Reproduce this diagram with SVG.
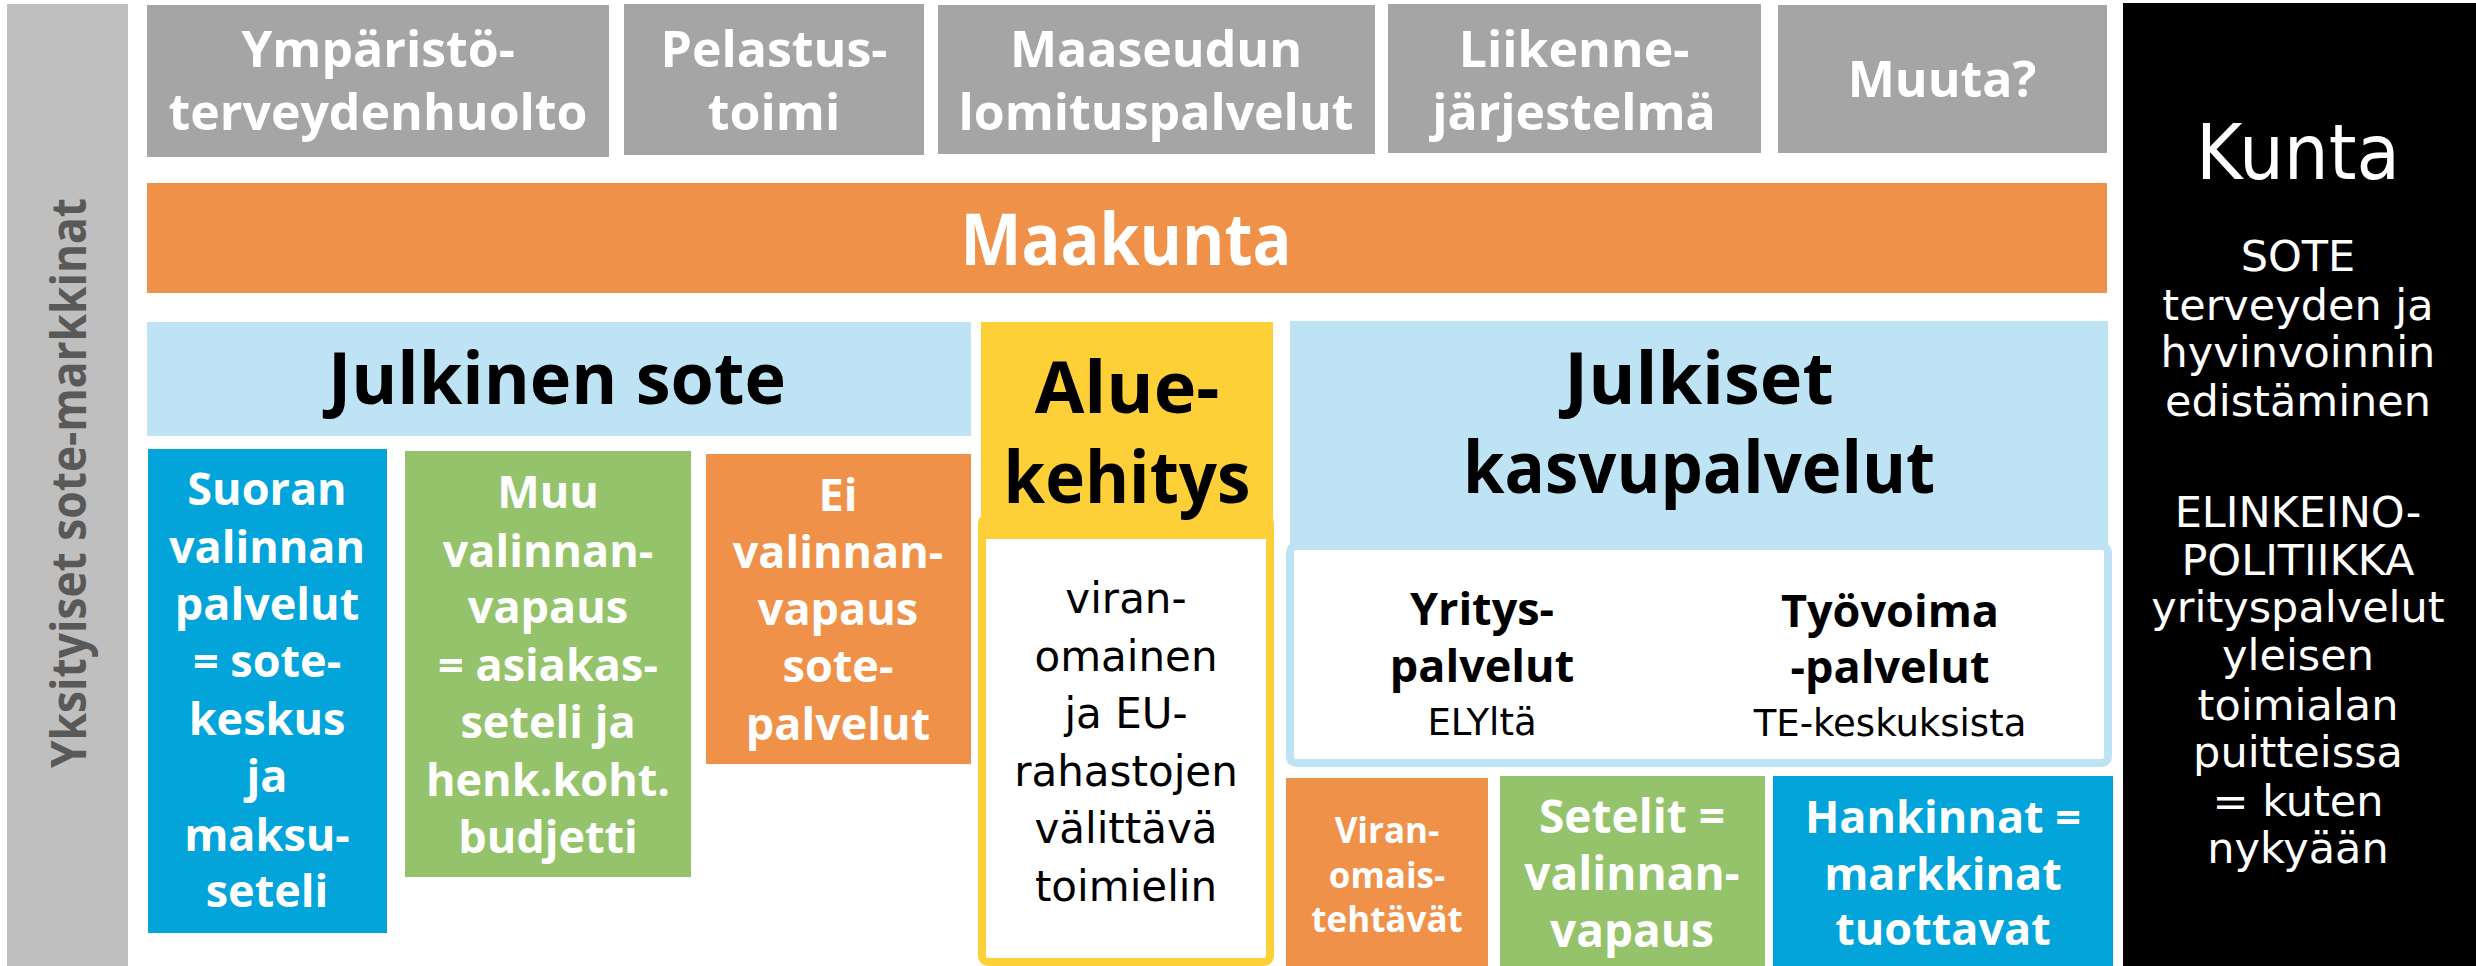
<svg xmlns="http://www.w3.org/2000/svg" width="2476" height="966" viewBox="0 0 2476 966">
<style>
.b{font-family:"Open Sans","Liberation Sans",sans-serif;font-weight:bold;text-anchor:middle}
.r{font-family:"DejaVu Sans","Liberation Sans",sans-serif;font-weight:normal;text-anchor:middle}
.w{fill:#ffffff}
.k{fill:#000000}
.gray{fill:#a5a5a5}
.top{font-size:50px}
.head{font-size:72px}
.body{font-size:45px}
</style>
<rect width="2476" height="966" fill="#ffffff"/>

<g id="yksityiset">
<rect x="7" y="4" width="121" height="962" fill="#bfbfbf"/>
<text class="b" transform="translate(86,483) rotate(-90)" font-size="48" fill="#595959" textLength="570" lengthAdjust="spacingAndGlyphs">Yksityiset sote-markkinat</text>
</g>

<g id="ymparisto">
<rect class="gray" x="147" y="5" width="462" height="152"/>
<text class="b w top" x="378" y="67">Ympäristö-</text>
<text class="b w top" x="378" y="130">terveydenhuolto</text>
</g>
<g id="pelastus">
<rect class="gray" x="624" y="4" width="300" height="151"/>
<text class="b w top" x="774" y="67">Pelastus-</text>
<text class="b w top" x="774" y="130">toimi</text>
</g>
<g id="maaseudun">
<rect class="gray" x="938" y="5" width="437" height="149"/>
<text class="b w top" x="1156" y="67">Maaseudun</text>
<text class="b w top" x="1156" y="130">lomituspalvelut</text>
</g>
<g id="liikenne">
<rect class="gray" x="1388" y="4" width="373" height="149"/>
<text class="b w top" x="1574" y="67">Liikenne-</text>
<text class="b w top" x="1574" y="130">järjestelmä</text>
</g>
<g id="muuta">
<rect class="gray" x="1778" y="5" width="329" height="148"/>
<text class="b w top" x="1942" y="97">Muuta?</text>
</g>

<g id="maakunta">
<rect x="147" y="183" width="1960" height="110" fill="#f0914a"/>
<text class="b w" x="1126" y="265" font-size="72" textLength="331" lengthAdjust="spacingAndGlyphs">Maakunta</text>
</g>

<g id="julkinen-sote">
<rect x="147" y="322" width="824" height="114" fill="#bde3f5"/>
<text class="b k head" x="557" y="404" textLength="458" lengthAdjust="spacingAndGlyphs">Julkinen sote</text>
</g>

<g id="suoran">
<rect x="148" y="449" width="239" height="484" fill="#02a4da"/>
<g class="b w body">
<text x="267" y="505">Suoran</text>
<text x="267" y="563">valinnan</text>
<text x="267" y="620">palvelut</text>
<text x="267" y="677">= sote-</text>
<text x="267" y="735">keskus</text>
<text x="267" y="792">ja</text>
<text x="267" y="851">maksu-</text>
<text x="267" y="907">seteli</text>
</g>
</g>

<g id="muu-valinnanvapaus">
<rect x="405" y="451" width="286" height="426" fill="#95c36b"/>
<g class="b w body">
<text x="548" y="508">Muu</text>
<text x="548" y="567">valinnan-</text>
<text x="548" y="623">vapaus</text>
<text x="548" y="681">= asiakas-</text>
<text x="548" y="738">seteli ja</text>
<text x="548" y="796">henk.koht.</text>
<text x="548" y="853">budjetti</text>
</g>
</g>

<g id="ei-valinnanvapaus">
<rect x="706" y="454" width="265" height="310" fill="#f0914a"/>
<g class="b w body">
<text x="838" y="511">Ei</text>
<text x="838" y="568">valinnan-</text>
<text x="838" y="625">vapaus</text>
<text x="838" y="682">sote-</text>
<text x="838" y="740">palvelut</text>
</g>
</g>

<g id="aluekehitys">
<rect x="982" y="517" width="288" height="445" rx="6" fill="#ffffff" stroke="#fdd037" stroke-width="8"/>
<rect x="981" y="322" width="292" height="217" fill="#fdd037"/>
<text class="b k head" x="1127" y="413">Alue-</text>
<text class="b k head" x="1127" y="503" textLength="247" lengthAdjust="spacingAndGlyphs">kehitys</text>
<g class="r k" font-size="42">
<text x="1126" y="613">viran-</text>
<text x="1126" y="671">omainen</text>
<text x="1126" y="728">ja EU-</text>
<text x="1126" y="786">rahastojen</text>
<text x="1126" y="843">välittävä</text>
<text x="1126" y="901">toimielin</text>
</g>
</g>

<g id="kasvupalvelut">
<rect x="1290" y="546" width="818" height="217" rx="6" fill="#ffffff" stroke="#bde3f5" stroke-width="8"/>
<rect x="1290" y="321" width="818" height="229" fill="#bde3f5"/>
<text class="b k head" x="1699" y="404">Julkiset</text>
<text class="b k head" x="1699" y="493" textLength="472" lengthAdjust="spacingAndGlyphs">kasvupalvelut</text>
<text class="b k body" x="1482" y="625">Yritys-</text>
<text class="b k body" x="1482" y="682">palvelut</text>
<text class="r k" x="1482" y="735" font-size="37">ELYltä</text>
<text class="b k body" x="1890" y="627">Työvoima</text>
<text class="b k body" x="1890" y="683">-palvelut</text>
<text class="r k" x="1890" y="736" font-size="37">TE-keskuksista</text>
</g>

<g id="viranomaistehtavat">
<rect x="1286" y="778" width="202" height="188" fill="#f0914a"/>
<g class="b w" font-size="35">
<text x="1387" y="843">Viran-</text>
<text x="1387" y="888">omais-</text>
<text x="1387" y="932">tehtävät</text>
</g>
</g>

<g id="setelit">
<rect x="1500" y="776" width="265" height="190" fill="#95c36b"/>
<g class="b w" font-size="46">
<text x="1632" y="833">Setelit =</text>
<text x="1632" y="890">valinnan-</text>
<text x="1632" y="947">vapaus</text>
</g>
</g>

<g id="hankinnat">
<rect x="1773" y="776" width="340" height="190" fill="#02a4da"/>
<g class="b w body">
<text x="1943" y="833">Hankinnat =</text>
<text x="1943" y="890">markkinat</text>
<text x="1943" y="945">tuottavat</text>
</g>
</g>

<g id="kunta">
<rect x="2123" y="3" width="353" height="963" fill="#000000"/>
<text class="r w" x="2298" y="179" font-size="76" textLength="204" lengthAdjust="spacingAndGlyphs">Kunta</text>
<g class="r w" font-size="43">
<text x="2298" y="271">SOTE</text>
<text x="2298" y="320">terveyden ja</text>
<text x="2298" y="367">hyvinvoinnin</text>
<text x="2298" y="416">edistäminen</text>
<text x="2298" y="527">ELINKEINO-</text>
<text x="2298" y="575">POLITIIKKA</text>
<text x="2298" y="622">yrityspalvelut</text>
<text x="2298" y="670">yleisen</text>
<text x="2298" y="720">toimialan</text>
<text x="2298" y="767">puitteissa</text>
<text x="2298" y="816">= kuten</text>
<text x="2298" y="863">nykyään</text>
</g>
</g>

<g id="connectors"/>
</svg>
